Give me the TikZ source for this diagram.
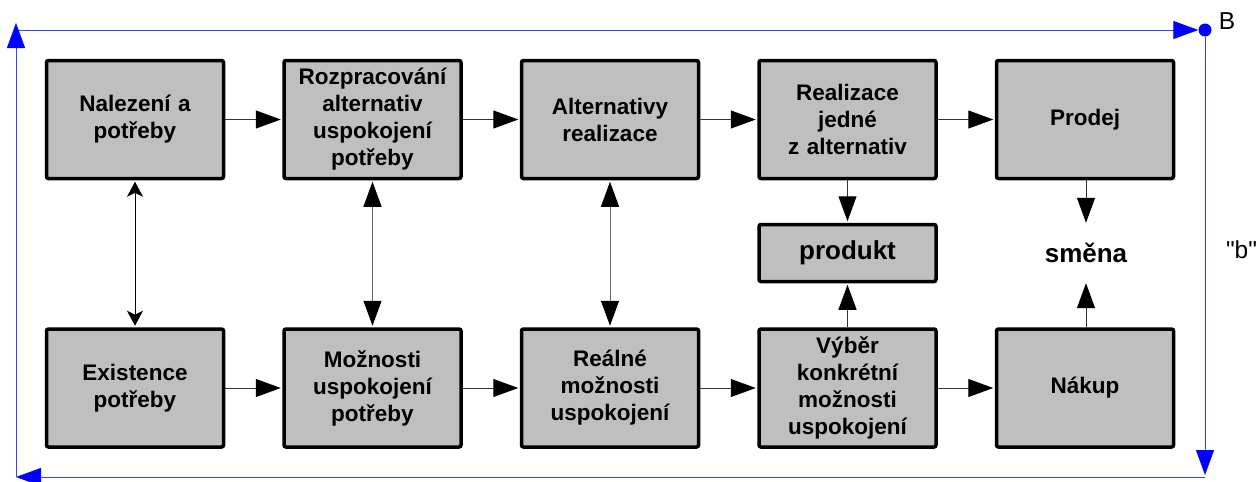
\documentclass[tikz,border=0pt]{standalone}
\usepackage{fontspec}
\setmainfont{Liberation Sans}
% plain family without TeX ligature mapping, so " stays a straight quote
\newfontfamily\tagfont{Liberation Sans}
\usetikzlibrary{arrows.meta}

\begin{document}
\begin{tikzpicture}[x=1pt,y=-1pt,
  stagebox/.style={draw=black, line width=3.5pt, rounded corners=2pt, fill=black!25,
    minimum width=177pt, minimum height=118pt, inner sep=0pt, text width=176pt,
    align=center, font=\fontsize{22.5}{27}\selectfont\bfseries},
  resultbox/.style={stagebox, minimum height=57pt, font=\fontsize{26}{31}\selectfont\bfseries},
  flow/.style={line width=1pt, draw=black!80, -{Triangle[length=25pt,width=18pt,color=black]}, shorten >=1.5pt},
  link/.style={line width=1pt, draw=black, {Stealth[length=15pt,width=16pt,inset=4pt]}-{Stealth[length=15pt,width=16pt,inset=4pt]}, shorten >=1.5pt, shorten <=1.5pt},
  biglink/.style={line width=1pt, draw=black!60, {Triangle[length=25pt,width=18pt,color=black]}-{Triangle[length=25pt,width=18pt,color=black]}, shorten >=1.5pt, shorten <=1.5pt},
  loop/.style={line width=1pt, draw=blue!75, -{Triangle[length=25pt,width=18pt,color=blue]}},
  tag/.style={font=\tagfont\fontsize{24.5}{28}\selectfont, anchor=base}
]
\useasboundingbox (0,0) rectangle (1259,482);

% upper row
\node[stagebox] (n1) at (135,119.5) {Nalezení a\\potřeby};
\node[stagebox] (n2) at (372.5,119.5) {Rozpracování\\alternativ\\uspokojení\\potřeby};
\node[stagebox] (n3) at (610,119.5) {Alternativy\\realizace};
\node[stagebox] (n4) at (847.5,119.5) {Realizace\\jedné\\z alternativ};
\node[stagebox] (n5) at (1085,119.5) {Prodej};

% lower row
\node[stagebox] (m1) at (135,388) {Existence\\potřeby};
\node[stagebox] (m2) at (372.5,388) {Možnosti\\uspokojení\\potřeby};
\node[stagebox] (m3) at (610,388) {Reálné\\možnosti\\uspokojení};
\node[stagebox] (m4) at (847.5,388) {Výběr\\konkrétní\\možnosti\\uspokojení};
\node[stagebox] (m5) at (1085,388) {Nákup};

% results in between
\node[resultbox] (prod) at (847.5,253) {produkt};
\node[font=\fontsize{26}{31}\selectfont\bfseries, inner sep=0pt, minimum height=57pt, minimum width=90pt] (smena) at (1086,253) {směna};

% horizontal flow
\draw[flow] (n1) -- (n2);
\draw[flow] (n2) -- (n3);
\draw[flow] (n3) -- (n4);
\draw[flow] (n4) -- (n5);
\draw[flow] (m1) -- (m2);
\draw[flow] (m2) -- (m3);
\draw[flow] (m3) -- (m4);
\draw[flow] (m4) -- (m5);

% vertical relations
\draw[link] (n1) -- (m1);
\draw[biglink] (n2) -- (m2);
\draw[biglink] (n3) -- (m3);
\draw[flow] (n4) -- (prod);
\draw[flow] (m4) -- (prod);
\draw[flow] (n5.south -| smena) -- (smena);
\draw[flow] (m5.north -| smena) -- (smena);

% outer cycle
\node[circle, fill=blue, inner sep=0pt, minimum size=13pt] (B) at (1205,30) {};
\coordinate (tl) at (16,30);
\coordinate (br) at (1205,477);
\coordinate (bl) at (16,477);
\draw[loop] (tl) -- (B);
\draw[loop] (B) -- ([yshift=2pt]br);
\draw[loop] (br) -- (bl);
\draw[loop, shorten >=-7pt] (bl) -- (tl);

\node[tag] (Blab) at (1227,29) {B};
\node[tag] (blab) at (1241.5,258) {"b"};
\end{tikzpicture}
\end{document}
